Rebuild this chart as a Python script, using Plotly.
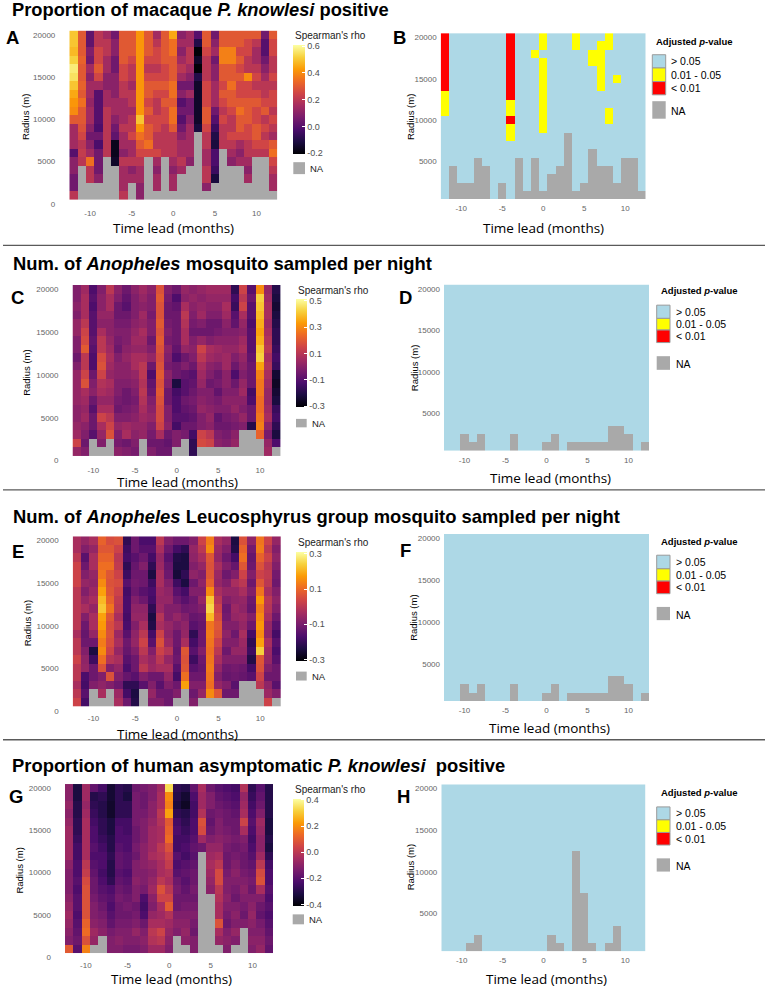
import numpy as np
import plotly.graph_objects as go

# ---------------- DATA ----------------
time_lead = list(range(-12, 13))                 # 25 columns
radius = list(range(20000, 0, -1000))            # 20 rows, top (20000) to bottom (1000)
x_ticks = [-10, -5, 0, 5, 10]
y_ticks_left = [0, 5000, 10000, 15000, 20000]
y_ticks_right = [5000, 10000, 15000, 20000]

N = None
# Spearman's rho, one list per time lead (-12..12), values from radius 20000 down to 1000
rho_macaque = [
 [0.5,0.5,0.48,0.52,0.57,0.55,0.5,0.45,0.42,0.4,0.3,0.15,0.15,0.15,0.0,0.1,0.1,0.05,0.05,0.2],
 [0.3,0.3,0.3,0.32,0.3,0.3,0.32,0.3,0.35,0.3,0.3,0.28,0.25,0.2,0.22,0.2,N,N,N,N],
 [0.02,0.02,0.08,0.05,0.15,0.1,0.15,0.15,0.12,0.15,0.15,0.1,0.05,0.1,0.15,0.35,0.2,0.2,N,N],
 [0.2,0.2,0.25,0.25,0.3,0.25,0.15,0.0,0.0,0.0,0.0,-0.02,0.05,-0.02,0.05,0.05,0.05,0.1,N,N],
 [0.15,0.2,0.2,0.15,0.15,0.1,0.1,0.15,0.15,0.2,0.2,0.2,0.2,0.2,0.2,N,N,N,N,N],
 [0.05,0.1,0.1,0.05,0.05,0.1,0.1,0.1,0.15,0.15,0.1,0.05,0.02,-0.17,-0.17,-0.15,N,N,N,N],
 [0.3,0.3,0.3,0.3,0.25,0.25,0.2,0.2,0.15,0.15,0.15,0.2,0.15,0.15,0.1,0.2,0.15,0.15,0.15,0.2],
 [0.3,0.3,0.3,0.25,0.2,0.2,0.15,0.2,0.2,0.15,0.2,0.2,0.25,0.15,0.15,0.2,0.1,0.15,N,N],
 [0.42,0.42,0.42,0.42,0.42,0.42,0.42,0.42,0.42,0.42,0.5,0.42,0.35,0.3,0.25,0.2,0.15,0.15,0.1,0.1],
 [0.3,0.3,0.3,0.25,0.2,0.25,0.3,0.3,0.25,0.3,0.25,0.3,0.3,0.35,0.25,N,N,N,N,N],
 [0.15,0.2,0.25,0.25,0.2,0.25,0.3,0.25,0.2,0.2,0.25,0.25,0.2,0.2,0.25,0.15,0.1,0.15,0.15,N],
 [0.3,0.3,0.3,0.3,0.25,0.25,0.3,0.25,0.3,0.25,0.25,0.2,0.2,0.2,0.2,N,N,N,N,N],
 [0.45,0.35,0.35,0.3,0.3,0.3,0.35,0.35,0.3,0.35,0.35,0.3,0.2,0.2,0.2,0.15,0.1,0.15,0.15,N],
 [0.1,0.15,0.1,0.15,0.2,0.15,0.05,0.1,0.0,0.05,0.0,0.05,0.1,0.15,0.15,0.2,0.15,N,N,N],
 [0.15,0.15,0.2,0.2,0.15,0.1,0.05,0.15,0.05,0.05,0.1,0.15,0.15,0.15,0.15,0.1,N,N,N,N],
 [0.0,-0.1,-0.2,-0.15,-0.2,-0.1,-0.15,-0.15,-0.15,-0.15,-0.15,-0.12,N,N,N,N,N,N,N,N],
 [0.3,0.3,0.25,0.2,0.2,0.2,0.25,0.25,0.25,0.3,0.3,0.25,0.2,0.2,0.15,0.15,0.2,0.2,0.1,N],
 [0.05,0.1,0.15,0.05,0.1,0.1,0.15,0.15,0.15,0.05,0.0,-0.05,-0.1,-0.12,-0.02,-0.02,-0.05,-0.12,N,N],
 [0.3,0.3,0.38,0.38,0.3,0.3,0.25,0.3,0.25,0.2,0.25,0.2,0.2,0.2,N,N,N,N,N,N],
 [0.3,0.3,0.38,0.38,0.3,0.3,0.35,0.3,0.3,0.25,0.2,0.2,0.25,0.2,0.15,0.1,N,N,N,N],
 [0.3,0.3,0.25,0.3,0.25,0.3,0.25,0.25,0.3,0.35,0.3,0.3,0.25,0.15,0.1,0.15,N,N,N,N],
 [0.3,0.25,0.25,0.2,0.2,0.4,0.25,0.25,0.3,0.3,0.3,0.25,0.25,0.2,0.2,0.15,0.1,0.15,N,N],
 [0.3,0.2,0.15,0.15,0.2,0.25,0.2,0.25,0.3,0.25,0.25,0.3,0.3,0.25,0.2,N,N,N,N,N],
 [0.05,0.0,0.0,0.05,0.1,0.15,0.2,0.2,0.25,0.3,0.2,0.25,0.2,0.25,0.2,N,N,N,N,N],
 [0.3,0.25,0.25,0.2,0.2,0.25,0.2,0.25,0.25,0.2,0.25,0.2,0.15,0.3,0.35,0.25,0.2,0.15,0.15,N],
]

rho_anopheles = [
 [-0.02,-0.02,0.0,-0.02,0.02,0.02,-0.02,-0.02,-0.06,-0.02,0.02,0.02,0.02,0.02,0.0,0.0,0.02,0.04,0.14,0.02],
 [0.04,0.06,0.06,0.06,0.1,0.14,0.16,0.2,0.1,0.1,0.14,0.18,0.06,0.04,0.02,0.04,0.0,-0.02,-0.06,-0.02],
 [-0.12,-0.1,-0.12,-0.1,-0.1,-0.1,-0.08,-0.1,-0.12,-0.12,-0.06,-0.02,0.0,-0.06,-0.1,-0.06,-0.06,-0.1,N,N],
 [-0.02,0.0,0.0,0.02,0.0,0.06,0.1,0.1,0.16,0.18,0.14,0.08,0.06,0.02,0.06,0.14,0.06,0.02,-0.02,N],
 [0.1,0.06,0.06,0.02,0.0,0.0,0.02,0.04,0.06,0.04,0.02,0.06,0.04,0.02,0.06,0.1,0.14,0.18,N,N],
 [0.0,-0.02,-0.06,-0.06,-0.04,-0.02,-0.04,-0.06,-0.02,0.0,0.0,-0.02,-0.02,-0.04,-0.06,-0.02,0.02,-0.02,-0.04,0.0],
 [-0.06,-0.08,-0.1,-0.06,-0.04,-0.02,-0.02,0.0,0.02,0.0,0.0,-0.02,-0.06,-0.06,-0.04,-0.02,0.04,0.06,-0.06,-0.02],
 [0.0,-0.02,-0.02,-0.02,0.0,0.02,0.04,0.02,0.06,0.06,0.02,0.0,-0.02,-0.04,-0.02,0.0,0.02,0.0,-0.02,-0.04],
 [0.04,0.02,0.0,0.04,0.02,0.06,0.04,0.02,0.06,0.1,0.1,0.08,0.1,0.08,0.06,0.04,0.02,0.02,N,N],
 [0.0,-0.02,-0.02,-0.04,-0.02,-0.02,-0.06,-0.02,0.02,-0.06,-0.12,-0.08,-0.06,-0.02,0.0,0.02,-0.02,-0.04,-0.06,-0.02],
 [0.18,0.2,0.18,0.18,0.2,0.18,0.2,0.18,0.16,0.18,0.2,0.18,0.2,0.18,0.16,0.16,0.14,0.06,-0.06,-0.06],
 [-0.02,-0.04,-0.06,-0.06,-0.04,-0.02,-0.04,0.0,-0.02,-0.04,0.0,-0.02,-0.06,-0.06,-0.02,-0.02,0.0,-0.06,-0.08,-0.06],
 [-0.06,-0.12,-0.08,-0.06,-0.06,-0.06,-0.06,-0.08,-0.12,-0.06,-0.06,-0.22,-0.14,-0.12,-0.12,-0.1,-0.14,-0.02,-0.02,N],
 [0.02,0.0,0.06,0.1,0.08,0.06,0.06,0.02,-0.06,-0.02,-0.08,-0.1,-0.1,-0.06,-0.08,-0.1,-0.06,-0.04,N,N],
 [0.0,0.02,0.0,-0.02,-0.04,-0.06,-0.02,0.0,-0.02,-0.06,-0.1,-0.08,-0.06,-0.04,-0.06,-0.08,-0.06,-0.14,-0.18,-0.18],
 [0.02,0.0,0.02,0.04,-0.02,-0.06,0.02,0.14,0.1,0.06,0.04,0.02,-0.02,0.0,0.02,-0.02,-0.02,0.14,0.16,N],
 [0.04,0.02,0.0,-0.02,-0.06,-0.06,-0.02,0.06,0.04,0.0,-0.02,-0.06,-0.02,-0.02,0.0,0.02,0.0,0.1,0.14,N],
 [0.04,0.02,0.0,-0.02,-0.06,-0.04,0.0,0.04,0.02,-0.02,-0.06,-0.04,-0.08,-0.04,-0.02,-0.08,-0.06,-0.02,0.0,N],
 [0.04,0.02,0.06,0.04,0.0,-0.02,0.0,0.02,0.04,0.04,0.0,0.0,-0.02,0.0,-0.02,-0.04,-0.06,-0.04,-0.02,N],
 [-0.18,-0.14,-0.16,-0.1,-0.08,-0.02,0.0,0.02,-0.02,-0.06,-0.12,-0.06,-0.02,0.0,0.02,-0.02,-0.04,0.0,0.02,N],
 [0.14,0.1,0.14,0.06,0.02,0.0,0.04,0.06,0.02,0.0,-0.02,0.02,0.04,0.0,-0.02,0.02,-0.02,N,N,N],
 [-0.1,-0.06,-0.1,-0.1,-0.12,-0.1,-0.1,-0.1,-0.08,-0.06,-0.06,-0.06,-0.14,-0.12,-0.06,-0.06,-0.2,N,N,N],
 [0.3,0.42,0.4,0.38,0.36,0.34,0.36,0.4,0.42,0.34,0.28,0.26,0.26,0.24,0.24,0.26,0.28,0.22,N,N],
 [0.02,0.04,0.06,0.06,0.04,0.06,0.08,0.1,0.06,0.08,0.06,0.04,0.02,0.02,0.04,0.06,0.0,-0.04,0.02,0.04],
 [-0.2,-0.22,-0.24,-0.22,-0.2,-0.18,-0.18,-0.16,-0.14,-0.16,-0.24,-0.26,-0.24,-0.22,-0.16,-0.14,-0.18,-0.22,-0.12,N],
]

rho_leucosphyrus = [
 [-0.03,-0.03,0.0,0.03,0.03,0.03,0.0,0.0,0.0,0.0,0.0,-0.03,0.0,0.0,0.03,0.0,0.0,-0.03,0.0,0.03],
 [-0.06,-0.09,-0.15,-0.12,-0.09,-0.06,-0.09,-0.06,-0.03,-0.09,-0.12,-0.13,-0.12,-0.09,-0.07,-0.06,-0.17,-0.18,-0.15,-0.18],
 [-0.03,-0.06,-0.03,-0.03,-0.06,-0.07,-0.05,-0.03,-0.06,-0.03,-0.03,-0.06,-0.12,-0.24,-0.19,-0.12,-0.12,-0.09,N,N],
 [0.09,0.07,0.09,0.11,0.12,0.15,0.18,0.21,0.23,0.18,0.17,0.15,0.13,0.15,0.11,0.06,-0.09,-0.07,-0.03,N],
 [0.05,0.07,0.09,0.11,0.07,0.06,0.07,0.09,0.12,0.07,0.05,0.06,0.05,0.03,-0.01,-0.09,0.06,-0.09,N,N],
 [0.06,0.03,0.0,0.01,0.03,0.05,0.03,0.01,0.0,-0.03,0.0,-0.05,-0.03,-0.06,-0.03,-0.06,-0.09,-0.12,-0.05,-0.03],
 [-0.21,-0.19,-0.18,-0.21,-0.19,-0.15,-0.18,-0.17,-0.17,-0.18,-0.17,-0.15,-0.12,-0.13,-0.15,-0.17,-0.13,-0.21,-0.18,-0.12],
 [-0.12,-0.12,-0.15,-0.13,-0.12,-0.11,-0.12,-0.09,-0.07,-0.06,-0.09,-0.07,-0.06,-0.09,-0.12,-0.12,-0.15,-0.21,-0.24,-0.23],
 [-0.17,-0.15,-0.12,-0.09,-0.12,-0.12,-0.15,-0.12,-0.07,-0.06,-0.03,0.0,0.03,0.0,-0.03,0.0,-0.09,-0.15,N,N],
 [-0.17,-0.15,-0.18,-0.21,-0.24,-0.19,-0.17,-0.18,-0.21,-0.24,-0.23,-0.18,-0.15,-0.09,-0.06,-0.05,-0.12,-0.09,-0.06,-0.09],
 [0.0,-0.03,-0.06,-0.05,-0.03,-0.03,-0.05,-0.06,-0.05,-0.01,-0.03,0.03,0.06,0.03,0.0,-0.03,-0.12,-0.15,-0.12,-0.09],
 [-0.09,-0.12,-0.15,-0.13,-0.12,-0.09,-0.07,-0.06,-0.09,-0.09,-0.06,-0.07,-0.05,-0.01,-0.06,-0.03,-0.06,-0.09,-0.12,-0.12],
 [-0.12,-0.18,-0.23,-0.24,-0.25,-0.19,-0.15,-0.12,-0.09,-0.06,-0.09,-0.12,-0.12,-0.13,-0.12,-0.15,-0.18,-0.12,-0.09,N],
 [-0.12,-0.21,-0.24,-0.24,-0.21,-0.24,-0.18,-0.15,-0.12,-0.09,-0.07,-0.06,-0.03,0.07,0.06,0.07,0.11,0.18,N,N],
 [-0.09,-0.06,-0.07,-0.09,-0.07,-0.12,-0.09,-0.12,-0.11,-0.13,-0.15,-0.21,-0.18,-0.15,-0.19,-0.15,-0.12,-0.09,-0.12,-0.09],
 [0.03,0.0,-0.03,-0.06,-0.09,-0.07,-0.09,-0.06,-0.09,-0.12,-0.13,-0.12,-0.12,-0.09,-0.12,-0.13,-0.12,-0.09,-0.06,N],
 [0.13,0.15,0.07,0.06,0.07,0.09,0.15,0.23,0.25,0.21,0.12,0.13,0.12,0.11,0.12,0.13,0.12,0.11,0.15,N],
 [-0.03,-0.05,-0.06,-0.03,-0.05,-0.06,-0.03,0.0,0.03,0.05,0.07,0.06,0.03,0.0,-0.03,-0.06,-0.09,-0.06,0.07,N],
 [-0.06,-0.09,-0.12,-0.09,-0.12,-0.09,-0.06,-0.09,-0.12,-0.11,-0.09,-0.07,-0.09,-0.12,-0.09,-0.12,-0.13,-0.09,-0.12,N],
 [-0.24,-0.23,-0.18,-0.13,-0.09,-0.03,-0.06,-0.07,-0.05,-0.06,-0.09,-0.12,-0.09,-0.06,-0.09,-0.11,-0.12,-0.15,-0.12,N],
 [0.06,0.09,0.11,0.07,0.03,0.0,-0.03,-0.06,-0.07,-0.05,-0.06,-0.03,-0.05,-0.06,-0.09,-0.12,-0.13,N,N,N],
 [-0.07,-0.11,-0.13,-0.12,-0.09,-0.12,-0.09,-0.12,-0.13,-0.09,-0.12,-0.18,-0.21,-0.19,-0.23,-0.18,-0.15,N,N,N],
 [0.12,0.13,0.09,0.06,0.03,0.07,0.12,0.17,0.13,0.15,0.17,0.15,0.18,0.24,0.07,0.06,0.03,0.0,N,N],
 [0.03,0.0,0.03,0.0,0.01,0.0,-0.03,0.0,-0.01,-0.03,-0.06,-0.07,-0.03,-0.05,-0.06,-0.09,-0.12,-0.07,-0.05,0.03],
 [-0.06,-0.09,-0.07,-0.09,-0.11,-0.12,-0.09,-0.07,-0.09,-0.12,-0.15,-0.18,-0.15,-0.17,-0.15,-0.12,-0.12,-0.15,-0.09,N],
]

rho_human = [
 [-0.1,-0.1,-0.08,-0.1,-0.08,-0.06,-0.06,-0.06,-0.06,-0.1,-0.12,-0.12,-0.12,-0.1,-0.08,-0.06,-0.08,-0.1,-0.12,0.1],
 [-0.32,-0.32,-0.3,-0.3,-0.28,-0.28,-0.26,-0.24,-0.24,-0.22,-0.22,-0.2,-0.22,-0.2,-0.2,-0.22,-0.2,-0.18,-0.16,-0.2],
 [-0.06,-0.06,-0.08,-0.06,-0.04,-0.04,-0.04,-0.04,-0.04,0.0,0.02,0.06,0.08,0.08,0.08,0.08,0.12,0.14,0.08,0.18],
 [-0.18,-0.3,-0.28,-0.26,-0.24,-0.22,-0.22,-0.2,-0.22,-0.2,-0.18,-0.16,-0.16,-0.14,-0.12,-0.12,-0.1,-0.06,-0.08,N],
 [-0.24,-0.28,-0.3,-0.3,-0.28,-0.28,-0.26,-0.24,-0.22,-0.22,-0.24,-0.22,-0.2,-0.18,-0.16,-0.14,-0.12,-0.1,N,N],
 [-0.34,-0.34,-0.35,-0.35,-0.32,-0.32,-0.3,-0.3,-0.28,-0.3,-0.3,-0.28,-0.22,-0.2,-0.22,-0.2,-0.18,-0.14,-0.12,-0.12],
 [-0.28,-0.28,-0.28,-0.28,-0.24,-0.22,-0.22,-0.2,-0.18,-0.18,-0.2,-0.18,-0.16,-0.14,-0.16,-0.16,-0.14,-0.12,-0.1,-0.12],
 [-0.3,-0.32,-0.28,-0.28,-0.24,-0.24,-0.22,-0.22,-0.2,-0.2,-0.22,-0.2,-0.18,-0.16,-0.14,-0.16,-0.14,-0.12,-0.12,-0.14],
 [-0.16,-0.14,-0.14,-0.14,-0.14,-0.16,-0.16,-0.14,-0.16,-0.12,-0.12,-0.1,-0.12,-0.12,-0.16,-0.14,-0.12,-0.08,-0.12,-0.14],
 [-0.14,-0.16,-0.16,-0.14,-0.12,-0.12,-0.12,-0.1,-0.1,-0.1,-0.12,-0.12,-0.14,-0.22,-0.24,-0.22,-0.16,-0.12,-0.1,-0.12],
 [-0.12,-0.12,-0.1,-0.1,-0.08,-0.06,-0.06,-0.06,-0.04,-0.08,-0.1,-0.08,-0.06,-0.1,-0.12,-0.08,-0.04,0.0,-0.02,-0.06],
 [-0.06,-0.04,-0.04,0.0,-0.02,-0.04,-0.04,0.0,-0.02,-0.04,-0.04,0.0,0.08,0.04,-0.04,-0.06,-0.04,0.04,0.0,-0.06],
 [0.34,0.2,0.18,0.24,0.1,0.12,0.14,0.08,0.04,0.02,-0.02,-0.04,0.0,0.04,0.1,-0.02,-0.06,-0.08,-0.1,-0.12],
 [-0.28,-0.3,-0.32,-0.28,-0.24,-0.22,-0.24,-0.24,-0.2,-0.22,-0.2,-0.16,-0.14,-0.16,-0.16,-0.12,-0.1,-0.12,N,N],
 [-0.3,-0.34,-0.36,-0.3,-0.28,-0.26,-0.24,-0.22,-0.24,-0.2,-0.18,-0.2,-0.18,-0.16,-0.14,-0.12,-0.1,-0.08,-0.1,N],
 [-0.18,-0.22,-0.24,-0.24,-0.22,-0.22,-0.2,-0.18,-0.2,-0.18,-0.16,-0.16,-0.14,-0.16,-0.14,-0.12,-0.14,-0.16,-0.12,-0.12],
 [-0.04,-0.06,-0.06,-0.02,0.08,0.06,-0.06,-0.16,N,N,N,N,N,N,N,N,N,N,N,N],
 [-0.16,-0.12,-0.12,-0.16,-0.18,-0.16,-0.12,-0.08,-0.06,-0.04,-0.06,-0.08,-0.1,N,N,N,N,N,N,N],
 [-0.2,-0.18,-0.16,-0.14,-0.12,-0.12,-0.1,-0.08,-0.04,0.0,0.06,0.06,0.0,-0.02,-0.04,-0.04,0.08,-0.04,-0.08,N],
 [-0.22,-0.2,-0.18,-0.16,-0.16,-0.14,-0.12,-0.14,-0.16,-0.16,-0.14,-0.12,-0.12,-0.1,-0.12,-0.14,-0.16,-0.12,-0.1,-0.12],
 [-0.24,-0.22,-0.2,-0.18,-0.16,-0.16,-0.14,-0.16,-0.14,-0.12,-0.1,-0.12,-0.14,-0.16,-0.12,-0.1,-0.12,-0.08,-0.12,N],
 [-0.02,-0.08,-0.06,-0.04,0.04,-0.04,-0.12,-0.14,-0.16,-0.16,-0.14,-0.12,-0.1,-0.12,-0.14,-0.16,-0.12,N,N,N],
 [-0.28,-0.26,-0.24,-0.22,-0.2,-0.22,-0.24,-0.22,-0.2,-0.18,-0.16,-0.14,-0.16,-0.12,-0.1,-0.08,-0.1,-0.12,-0.1,-0.12],
 [-0.2,-0.18,-0.16,-0.12,-0.06,-0.08,-0.1,-0.1,-0.06,0.0,0.06,0.08,-0.04,-0.12,-0.16,-0.18,-0.14,-0.12,-0.1,-0.08],
 [-0.3,-0.3,-0.3,-0.3,-0.32,-0.32,-0.3,-0.32,-0.28,-0.24,-0.22,-0.22,-0.2,-0.22,-0.2,-0.22,-0.2,-0.18,-0.16,-0.18],
]

# Adjusted p-value classes for panel B: (time lead, radius from, radius to, class)
# class 1 = 0.01-0.05, class 2 = < 0.01 ; all other non-NA cells are > 0.05
pval_macaque_runs = [
 (-12, 14000, 20000, 2), (-12, 11000, 13000, 1),
 (-4, 13000, 20000, 2), (-4, 11000, 12000, 1), (-4, 10000, 10000, 2), (-4, 8000, 9000, 1),
 (-1, 18000, 18000, 1),
 (0, 19000, 20000, 1), (0, 9000, 17000, 1),
 (4, 19000, 20000, 1),
 (6, 17000, 18000, 1),
 (7, 14000, 19000, 1),
 (8, 19000, 20000, 1), (8, 10000, 11000, 1),
 (9, 15000, 15000, 1),
]
pval_anopheles_runs = []
pval_leucosphyrus_runs = []
pval_human_runs = []

pval_labels = ["> 0.05", "0.01 - 0.05", "< 0.01"]
pval_colors = ["#ADD8E6", "#FFFF00", "#FF0000"]
na_color = "#A9A9A9"

# ---------------- helpers ----------------
W, H = 768, 992
def fx(p): return p / W
def fy(p): return 1 - p / H

for arr in (rho_macaque, rho_anopheles, rho_leucosphyrus, rho_human):
    assert len(arr) == 25 and all(len(c) == 20 for c in arr)

def to_matrix(cols):
    return np.array(cols, dtype=float).T   # rows = radius, cols = time

def pval_matrix(rho_cols, runs):
    z = to_matrix(rho_cols)
    cat = np.where(np.isnan(z), 3.0, 0.0)
    for t, r0, r1, c in runs:
        j = time_lead.index(t)
        for i, r in enumerate(radius):
            if r0 <= r <= r1 and cat[i, j] != 3:
                cat[i, j] = c
    return cat

inferno = "Inferno"
cat_scale = [[0, pval_colors[0]], [0.25, pval_colors[0]], [0.25, pval_colors[1]], [0.5, pval_colors[1]],
             [0.5, pval_colors[2]], [0.75, pval_colors[2]], [0.75, na_color], [1, na_color]]

fig = go.Figure()

left_panels = [
    # key, rho data, x0, x1, ytop, ybot, zmin, zmax, ticks, cb(left, top, len, thick), na box, xtick standoff
    ("A", rho_macaque, 69.3, 277.3, 30.75, 205, -0.205, 0.61, [-0.2, 0.0, 0.2, 0.4, 0.6],
     (293.3, 45, 109, 11.7), (293.3, 163, 305, 175), 3),
    ("C", rho_anopheles, 72.5, 280.8, 286.4, 463, -0.31, 0.51, [-0.3, -0.1, 0.1, 0.3, 0.5],
     (296, 301, 108, 10.7), (296, 421, 306.7, 429.5), 3),
    ("E", rho_leucosphyrus, 72.7, 281, 539, 714.5, -0.31, 0.31, [-0.3, -0.1, 0.1, 0.3],
     (296, 555, 109, 10.7), (296, 675, 306.7, 684), 1),
    ("G", rho_human, 65, 273.2, 788, 961.7, -0.41, 0.41, [-0.4, -0.2, 0.0, 0.2, 0.4],
     (292.7, 802.7, 106.6, 11.3), (292.7, 919, 304, 929), 2),
]
right_panels = [
    ("B", rho_macaque, pval_macaque_runs, 440.7, 645.7, 33.3, 200),
    ("D", rho_anopheles, pval_anopheles_runs, 444, 649, 286, 453.3),
    ("F", rho_leucosphyrus, pval_leucosphyrus_runs, 444, 649, 536.7, 705),
    ("H", rho_human, pval_human_runs, 441.3, 645.7, 788.3, 956),
]

axis_font = dict(family="Liberation Sans", size=8, color="#666666")
layout_axes = {}
annotations = []
shapes = []

def add_axes(idx, x0, x1, ytop, ybot, yrange, yticks, ystandoff, xstandoff=3):
    sx = "" if idx == 1 else str(idx)
    layout_axes["xaxis" + sx] = dict(domain=[fx(x0), fx(x1)], range=[-12.5, 12.5], anchor="y" + sx,
                                    tickvals=x_ticks, ticktext=[str(v) for v in x_ticks],
                                    showgrid=False, zeroline=False, showline=False, ticks="",
                                    tickfont=axis_font, ticklabelstandoff=xstandoff, fixedrange=True)
    layout_axes["yaxis" + sx] = dict(domain=[fy(ybot), fy(ytop)], range=yrange, anchor="x" + sx,
                                    tickvals=yticks, ticktext=[str(v) for v in yticks],
                                    showgrid=False, zeroline=False, showline=False, ticks="",
                                    tickfont=axis_font, ticklabelstandoff=ystandoff, fixedrange=True)
    return "x" + sx, "y" + sx

def text(x, y, s, size, family="Liberation Sans", color="#000000", xanchor="left", textangle=0):
    annotations.append(dict(x=fx(x), y=fy(y), xref="paper", yref="paper", text=s, showarrow=False,
                            xanchor=xanchor, yanchor="middle", textangle=textangle,
                            font=dict(family=family, size=size, color=color)))

idx_map = {"A": 1, "B": 2, "C": 3, "D": 4, "E": 5, "F": 6, "G": 7, "H": 8}

for key, rho, x0, x1, ytop, ybot, zmin, zmax, cticks, cb, nab, xso in left_panels:
    xa, ya = add_axes(idx_map[key], x0, x1, ytop, ybot, [0, 20500], y_ticks_left, 13, xso)
    z = to_matrix(rho)
    na = np.where(np.isnan(z), 1.0, np.nan)
    fig.add_trace(go.Heatmap(x=time_lead, y=radius, z=na, xaxis=xa, yaxis=ya, showscale=False,
                             colorscale=[[0, na_color], [1, na_color]], zmin=0, zmax=1, hoverinfo="skip"))
    cl, ct, clen, cth = cb
    fig.add_trace(go.Heatmap(x=time_lead, y=radius, z=z, xaxis=xa, yaxis=ya, colorscale=inferno,
                             zmin=zmin, zmax=zmax,
                             colorbar=dict(x=fx(cl), xanchor="left", y=fy(ct), yanchor="top",
                                           len=clen, lenmode="pixels", thickness=cth, thicknessmode="pixels",
                                           xpad=0, ypad=0, outlinewidth=0, ticks="inside", ticklen=3,
                                           tickcolor="white", tickwidth=1,
                                           tickvals=cticks, ticktext=[f"{v:.1f}" for v in cticks],
                                           tickfont=dict(family="Liberation Sans", size=9, color="#4D4D4D"))))
    # NA key
    shapes.append(dict(type="rect", xref="paper", yref="paper", x0=fx(nab[0]), x1=fx(nab[2]),
                       y0=fy(nab[3]), y1=fy(nab[1]), fillcolor=na_color, line=dict(width=0)))
    text(nab[2] + 3, (nab[1] + nab[3]) / 2, "NA", 9.5, color="#1a1a1a")
    text(cl, ct - 9.5, "Spearman's rho", 10, color="#1a1a1a")

for key, rho, runs, x0, x1, ytop, ybot in right_panels:
    xa, ya = add_axes(idx_map[key], x0, x1, ytop, ybot, [500, 20500], y_ticks_right, 3)
    cat = pval_matrix(rho, runs)
    fig.add_trace(go.Heatmap(x=time_lead, y=radius, z=cat, xaxis=xa, yaxis=ya, colorscale=cat_scale,
                             zmin=-0.5, zmax=3.5, showscale=False, hoverinfo="skip"))

# p-value legends
pv_legends = [
    # title (x, y), key x0,x1, three key rows (top, bottom), NA key (top,bottom), label x
    ((654, 41.7), (652.3, 665.7), [(55, 68.3), (68.3, 82), (82, 95.3)], (101.7, 119.3), 669),
    ((659, 291.7), (656.7, 670), [(306.7, 320), (320, 331.7), (331.7, 344.3)], (358, 371.7), 674),
    ((659, 544.3), (656.7, 670), [(558, 571.7), (571.7, 584), (584, 596.7)], (610, 623.3), 674),
    ((659, 796.7), (656.7, 670), [(811, 824), (824, 836.7), (836.7, 849.3)], (862.7, 876), 674),
]
for (tx, ty), (kx0, kx1), rows, (nt, nb), lx in pv_legends:
    text(tx, ty, "<b>Adjusted <i>p</i>-value</b>", 9.5)
    for (t, b), col, lab in zip(rows, pval_colors, pval_labels):
        shapes.append(dict(type="rect", xref="paper", yref="paper", x0=fx(kx0), x1=fx(kx1),
                           y0=fy(b), y1=fy(t), fillcolor=col, line=dict(color="#9A9A9A", width=1)))
        text(lx, (t + b) / 2, lab, 10.5)
    shapes.append(dict(type="rect", xref="paper", yref="paper", x0=fx(kx0), x1=fx(kx1),
                       y0=fy(nb), y1=fy(nt), fillcolor=na_color, line=dict(width=0)))
    text(lx, (nt + nb) / 2 + 1, "NA", 10.5)

# section titles
text(10, 10, "<b>Proportion of macaque <i>P. knowlesi</i> positive</b>", 18.3)
text(11, 264.5, "<b>Num. of <i>Anopheles</i> mosquito sampled per night</b>", 18.4)
text(11, 519.5, "<b>Num. of <i>Anopheles</i> Leucosphyrus group mosquito sampled per night</b>", 18.4)
text(10, 769, "<b>Proportion of human asymptomatic <i>P. knowlesi</i>\u00a0 positive</b>", 18.4)

# panel letters
for s, x, y in [("A", 12.7, 37.5), ("B", 399.8, 37.5), ("C", 17.8, 299), ("D", 405, 299),
                ("E", 17.8, 554), ("F", 405, 553.3), ("G", 15.5, 801), ("H", 403, 801)]:
    text(x, y, f"<b>{s}</b>", 18.5, xanchor="center")

# axis titles
for x, y in [(173, 229), (543, 229), (177, 484), (550, 480), (177, 737.5), (549.5, 731.7),
             (171, 984), (546.7, 984)]:
    text(x, y, "Time lead (months)", 13.5, family="Open Sans", xanchor="center")
for x, y in [(25.7, 118), (410.7, 118), (25.7, 375), (414, 370), (27.5, 627), (414, 621),
             (20, 875), (410.7, 872)]:
    text(x, y, "Radius (m)", 9.5, xanchor="center", textangle=-90)

# section separators
for y in [246.7, 492.3, 743.5]:
    shapes.append(dict(type="line", xref="paper", yref="paper", x0=fx(3), x1=fx(765), y0=fy(y), y1=fy(y),
                       line=dict(color="#5A5A5A", width=1.3)))

fig.update_layout(width=W, height=H, margin=dict(l=0, r=0, t=0, b=0),
                  paper_bgcolor="white", plot_bgcolor="white", showlegend=False,
                  annotations=annotations, shapes=shapes, **layout_axes)

fig.write_html("out.html")
